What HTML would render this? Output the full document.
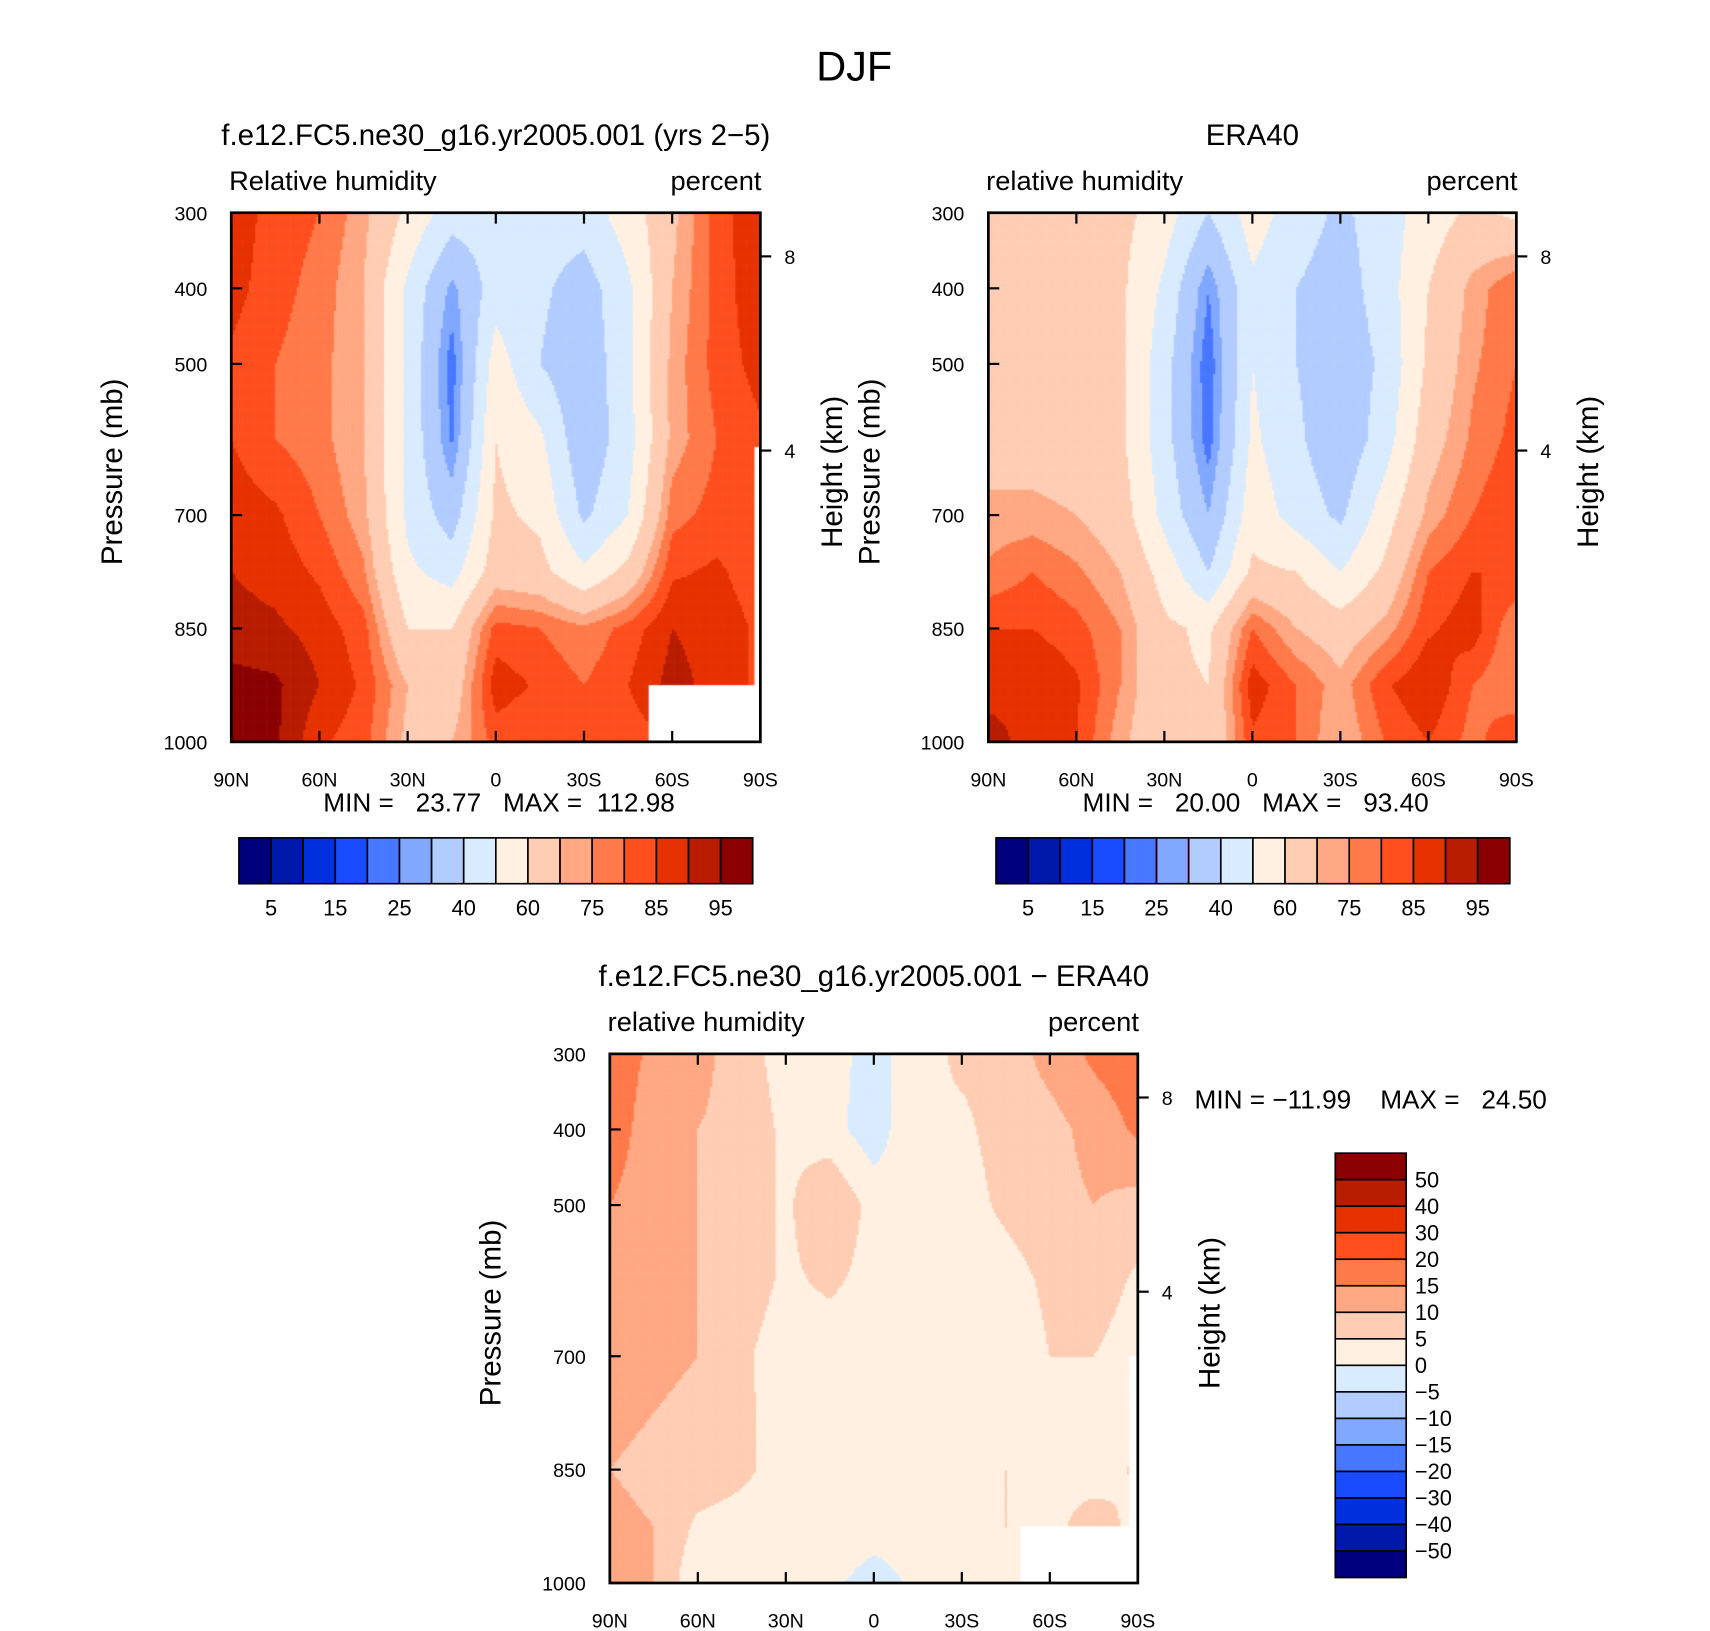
<!DOCTYPE html>
<html><head><meta charset="utf-8"><style>
body{margin:0;background:#fff;}
#wrap{position:relative;width:1710px;height:1631px;overflow:hidden;}
canvas,svg{position:absolute;left:0;top:0;}
text{font-family:"Liberation Sans",sans-serif;fill:#000;white-space:pre;}
</style></head><body>
<div id="wrap">
<canvas id="cv" width="1710" height="1631"></canvas>
<svg id="sv" width="1710" height="1631" viewBox="0 0 1567.5 1495" preserveAspectRatio="none"></svg>
</div>
<script>
// ---- data ----
const lats = [90,75,60,45,30,15,0,-15,-30,-45,-60,-75,-90];
const levels = [300,400,500,600,700,775,850,925,1000];
const modelRH = [
[88,83,80,72,58,45,45,45,45,55,68,82,90],
[87,82,78,70,48,28,45,42,35,48,70,82,89],
[84,80,77,70,48,22,55,40,32,48,72,82,87],
[85,80,77,70,48,24,60,52,32,46,72,80,84],
[88,86,80,72,48,35,62,58,38,50,78,82,82],
[90,88,84,76,52,46,65,63,52,63,84,86,82],
[92,91,88,82,60,60,82,80,76,82,90,88,84],
[97,96,90,84,70,64,88,84,80,85,92,88,84],
[97,96,86,82,68,70,82,80,80,82,85,84,84]];
const eraRH = [
[65,65,65,63,55,40,55,45,38,45,55,62,58],
[65,65,65,62,48,25,48,40,35,45,60,72,80],
[65,65,65,62,44,21,50,40,33,42,62,74,80],
[66,66,65,62,44,22,52,42,32,45,66,76,82],
[72,72,70,65,47,30,56,46,38,55,72,80,85],
[76,80,76,70,56,40,62,60,50,62,80,85,85],
[85,85,82,75,62,58,80,70,65,72,84,88,75],
[88,90,86,75,62,60,88,80,72,84,90,80,75],
[92,88,85,72,62,60,84,80,70,80,85,78,85]];
const diffRH = [
[18,14,12,7,3,2,-2,3,6,7,12,16,18],
[18,12,10,8,4,2,-3,5,4,7,8,12,16],
[15,12,10,8,4,10,3,2,3,6,8,10,8],
[14,12,10,8,4,6,3,2,2,3,6,8,4],
[14,12,10,6,2,2,1,1,3,2,5,5,2],
[12,10,8,6,3,2,2,3,2,3,5,4,2],
[10,8,8,6,3,2,2,3,4,5,4,2,6],
[12,10,4,3,2,3,2,2,3,5,3,8,3],
[15,10,1,1,1,1,-2,1,2,3,2,2,2]];
const absLevels = [5,10,15,20,25,30,40,50,60,70,75,80,85,90,95];
const absLabels = ["5","15","25","40","60","75","85","95"];
const diffLevels = [-50,-40,-30,-20,-15,-10,-5,0,5,10,15,20,30,40,50];
const colors = ["#00007f","#0019aa","#0030dd","#1a4cff","#4878ff","#80a8ff","#b3ccff","#d9ebff","#fff0e1","#ffcdb4","#ffa883","#ff7a4a","#ff4f1f","#e63200","#b81d00","#8b0000"];
const latTicks = [90,60,30,0,-30,-60,-90];
const latLabels = ["90N","60N","30N","0","30S","60S","90S"];
const pTicks = [300,400,500,700,850,1000];
const modelMasks = [{lat1:-52,lat2:-90,p1:925,p2:1000},{lat1:-88,lat2:-90,p1:610,p2:925}];
const diffMasks = [{lat1:-50,lat2:-90,p1:925,p2:1000},{lat1:-87,lat2:-90,p1:700,p2:925}];

const panels = [
 {x:212,y:195,w:485,h:485,data:modelRH,lev:absLevels,masks:modelMasks,title:"f.e12.FC5.ne30_g16.yr2005.001 (yrs 2\u22125)",left:"Relative humidity",min:"MIN =   23.77   MAX =  112.98",name:"model"},
 {x:906,y:195,w:484,h:485,data:eraRH,lev:absLevels,masks:[],title:"ERA40",left:"relative humidity",min:"MIN =   20.00   MAX =   93.40",name:"era40"},
 {x:559,y:966,w:484,h:485,data:diffRH,lev:diffLevels,masks:diffMasks,title:"f.e12.FC5.ne30_g16.yr2005.001 \u2212 ERA40",left:"relative humidity",min:null,name:"difference"}
];
function binColor(v,lev){let i=0;while(i<lev.length&&v>=lev[i])i++;return colors[Math.min(15,i)];}

const SCX=1710/1567.5, SCY=1631/1495;
const cv=document.getElementById('cv').getContext('2d');
cv.setTransform(SCX,0,0,SCY,0,0);
function interp(data,lat,p){
 let fx=(90-lat)/15, i=Math.min(11,Math.floor(fx)), tx=fx-i;
 let j=0; while(j<levels.length-2&&p>levels[j+1])j++;
 let ty=(p-levels[j])/(levels[j+1]-levels[j]);
 const a=data[j][i],b=data[j][i+1],c=data[j+1][i],d=data[j+1][i+1];
 return (a*(1-tx)+b*tx)*(1-ty)+(c*(1-tx)+d*tx)*ty;
}
panels.forEach(P=>{
 const xs=lat=>P.x+(90-lat)/180*P.w, ys=p=>P.y+(p-300)/700*P.h;
 P.xs=xs;P.ys=ys;
 const s=2;
 for(let py=0;py<P.h;py+=s)for(let px=0;px<P.w;px+=s){
  const lat=90-(px+s/2)/P.w*180, p=300+(py+s/2)/P.h*700;
  cv.fillStyle=binColor(interp(P.data,lat,p),P.lev);
  cv.fillRect(P.x+px,P.y+py,Math.min(s+0.6,P.w-px),Math.min(s+0.6,P.h-py));
 }
 cv.fillStyle="#fff";
 P.masks.forEach(m=>cv.fillRect(xs(m.lat1),ys(m.p1),xs(m.lat2)-xs(m.lat1),ys(m.p2)-ys(m.p1)));
});

const NS="http://www.w3.org/2000/svg";
const sv=document.getElementById('sv');
function el(tag,attrs,parent,txt){const e=document.createElementNS(NS,tag);for(const k in attrs)e.setAttribute(k,attrs[k]);if(txt!==undefined)e.textContent=txt;(parent||sv).appendChild(e);return e;}
let t=el('text',{x:783,y:74,'font-size':38,'text-anchor':'middle'},sv,'DJF');



panels.forEach(P=>{
 const g=el('g',{});
 
 
 const r=el('rect',{x:P.x,y:P.y,width:P.w,height:P.h,fill:'none',stroke:'#000','stroke-width':2.5},g);
 
 
 let tt=el('text',{x:P.x+P.w/2,y:P.y-62,'font-size':27,'text-anchor':'middle'},g,P.title);
 
 
 tt=el('text',{x:P.x-2,y:P.y-21,'font-size':25},g,P.left);
 
 
 tt=el('text',{x:P.x+P.w+1,y:P.y-21,'font-size':25,'text-anchor':'end'},g,'percent');
 
 
 latTicks.forEach((lt,i)=>{
  const x=P.xs(lt);
  el('line',{x1:x,y1:P.y+P.h,x2:x,y2:P.y+P.h-10,stroke:'#000','stroke-width':2},g);
  el('line',{x1:x,y1:P.y,x2:x,y2:P.y+10,stroke:'#000','stroke-width':2},g);
  const l=el('text',{x:x,y:P.y+P.h+41,'font-size':18,'text-anchor':'middle'},g,latLabels[i]);
  
  
 });
 pTicks.forEach(p=>{
  const y=P.ys(p);
  el('line',{x1:P.x,y1:y,x2:P.x+10,y2:y,stroke:'#000','stroke-width':2},g);
  const l=el('text',{x:P.x-22,y:y+7,'font-size':18,'text-anchor':'end'},g,String(p));
  
  
 });
 [[8,P.y+40],[4,P.y+218]].forEach(([k,y])=>{
  el('line',{x1:P.x+P.w,y1:y,x2:P.x+P.w+10,y2:y,stroke:'#000','stroke-width':2},g);
  const l=el('text',{x:P.x+P.w+22,y:y+7,'font-size':18},g,String(k));
  
  
 });
 let a=el('text',{x:0,y:0,'font-size':27,'text-anchor':'middle',transform:`translate(${P.x-100},${P.y+P.h/2-5}) rotate(-90)`},g,'Pressure (mb)');
 
 
 a=el('text',{x:0,y:0,'font-size':27,'text-anchor':'middle',transform:`translate(${P.x+P.w+75},${P.y+P.h/2-5}) rotate(-90)`},g,'Height (km)');
 
 
 if(P.min){
  a=el('text',{x:P.x+P.w/2+3,y:P.y+P.h+64,'font-size':24,'text-anchor':'middle'},g,P.min);
  
  
  const cb=el('g',{},g);
  
  
  const x0=P.x+7,w=471/16;
  colors.forEach((c,i)=>{el('rect',{x:x0+i*w,y:768,width:w,height:42,fill:c,stroke:'#000','stroke-width':1.5},cb);});
  absLabels.forEach((s,i)=>{
   const l=el('text',{x:x0+(1+2*i)*w,y:839,'font-size':20,'text-anchor':'middle'},cb,s);
   
   
  });
 }
});
let m=el('text',{x:1095,y:1016,'font-size':24},sv,'MIN = \u221211.99    MAX =   24.50');


const vb=el('g',{});


const h=389/16;
colors.slice().reverse().forEach((c,i)=>{el('rect',{x:1224,y:1057+i*h,width:65,height:h,fill:c,stroke:'#000','stroke-width':1.5},vb);});
diffLevels.slice().reverse().forEach((v,i)=>{
 const l=el('text',{x:1297,y:1057+(i+1)*h+7,'font-size':20},vb,v<0?'\u2212'+(-v):String(v));
 
 
});
</script></body></html>
